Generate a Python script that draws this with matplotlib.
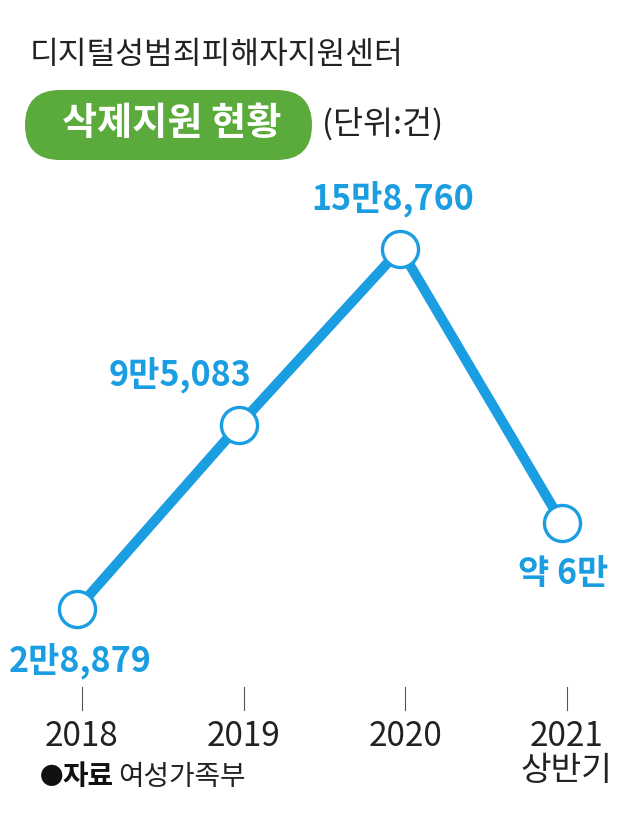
import matplotlib
matplotlib.use("Agg")
import matplotlib.pyplot as plt
from matplotlib.patches import FancyBboxPatch
from matplotlib.transforms import IdentityTransform, blended_transform_factory

plt.rcParams['font.family'] = ['Noto Sans CJK KR', 'DejaVu Sans']

years = ["2018", "2019", "2020", "2021\n상반기"]
values = [28879, 95083, 158760, 60000]
labels = ["2만8,879", "9만5,083", "15만8,760", "약 6만"]
# label offsets in pixels (dx, dy)
offsets = [(3, -53), (-59, 50), (-8, 49), (1, -51)]

BLUE = "#1b9de2"
GREEN = "#5aab3b"

fig = plt.figure(figsize=(6.4, 8.27), dpi=100)
ax = fig.add_axes([0, 0, 1, 1])
ax.set_xlim(-0.476, 3.482)
ax.set_ylim(-49765, 248586)
ax.axis("off")

x = list(range(len(values)))
ax.plot(x, values, color=BLUE, lw=7.2, solid_capstyle="butt", zorder=2)
ax.plot(x, values, "o", ms=26, mfc="white", mec=BLUE, mew=2.4, zorder=3)

for xi, v, lab, (dx, dy) in zip(x, values, labels, offsets):
    ax.annotate(lab, (xi, v), xytext=(dx, dy), textcoords="offset pixels",
                ha="center", va="center", fontsize=24.5, fontweight="bold",
                color=BLUE)

tr = blended_transform_factory(ax.transData, ax.transAxes)
for xi, yr in zip(x, years):
    ax.plot([xi + 0.03, xi + 0.03], [0.1415, 0.169], color="#555555", lw=0.8,
            transform=tr)
    ax.text(xi + 0.03, 0.131, yr, transform=tr, ha="center", va="top",
            fontsize=24, color="#222222", linespacing=0.98)

# header
fig.text(30 / 640, 1 - 55 / 827, "디지털성범죄피해자지원센터", fontsize=22.5,
         color="#222222", va="center", ha="left")
pill = FancyBboxPatch((25, 667), 287, 70, boxstyle="round,pad=0,rounding_size=35",
                      transform=IdentityTransform(), facecolor=GREEN,
                      edgecolor="none")
fig.patches.append(pill)
fig.text(172 / 640, 1 - 124 / 827, "삭제지원 현황", fontsize=27.5, fontweight="bold",
         color="white", va="center", ha="center")
fig.text(322 / 640, 1 - 124 / 827, "(단위:건)", fontsize=23.5, color="#222222",
         va="center", ha="left")

# source
fig.text(40 / 640, 1 - 777 / 827, "●", fontsize=17, color="#111111",
         va="center", ha="left")
fig.text(62 / 640, 1 - 777 / 827, "자료", fontsize=20, fontweight="bold",
         color="#111111", va="center", ha="left")
fig.text(118 / 640, 1 - 777 / 827, "여성가족부", fontsize=20, color="#222222",
         va="center", ha="left")

fig.savefig("out.png", dpi=100, facecolor="white")
